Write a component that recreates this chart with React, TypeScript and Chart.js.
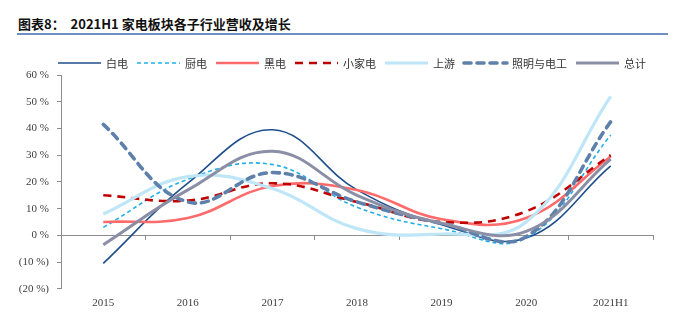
import React, { useEffect, useRef } from 'react';
import { Chart, registerables } from 'chart.js';

Chart.register(...registerables);

const categories = ['2015', '2016', '2017', '2018', '2019', '2020', '2021H1'];
const seriesNames = ['白电', '厨电', '黑电', '小家电', '上游', '照明与电工', '总计'];

const baidian = [-10.5, 19.5, 39.5, 17, 4, -1, 26];
const chudian = [3, 21, 26.5, 10.5, 2.5, -1, 37.5];
const heidian = [5, 6.5, 18.5, 17, 6, 6.5, 29.5];
const xiaojiadian = [15, 13, 19.5, 12.5, 5, 9, 30];
const shangyou = [8, 22, 17.5, 2.5, 0.5, 5, 52];
const zhaoming = [41.5, 12.5, 23.5, 12.5, 4.5, -0.5, 42.5];
const zongji = [-3.5, 17, 31.5, 15, 4.5, 1.5, 28.5];

const yMin = -20;
const yMax = 60;
const yStep = 10;

const seriesValues = [baidian, chudian, heidian, xiaojiadian, shangyou, zhaoming, zongji];
const seriesStyles = [
  { color: '#1F4E8C', width: 1.6, dash: [] as number[], cap: 'butt' },
  { color: '#22AEE6', width: 1.6, dash: [4, 3], cap: 'butt' },
  { color: '#FF6B6B', width: 2.6, dash: [] as number[], cap: 'butt' },
  { color: '#C00000', width: 2.6, dash: [8, 6], cap: 'butt' },
  { color: '#BEE6F7', width: 3.2, dash: [] as number[], cap: 'butt' },
  { color: '#5E80AA', width: 3.6, dash: [7, 6], cap: 'round' },
  { color: '#8A8FA6', width: 3, dash: [] as number[], cap: 'butt' },
];

const serifFont = '"Liberation Serif", "Times New Roman", serif';
const cjkFont = '"Noto Sans CJK SC", sans-serif';

const legendPlugin = {
  id: 'lineLegend',
  afterDraw(chart: any) {
    const ctx = chart.ctx as CanvasRenderingContext2D;
    const sampleW = 43;
    const gap1 = 5;
    const gap2 = 9;
    ctx.save();
    ctx.font = `11px ${cjkFont}`;
    let x = chart.chartArea.left - 3;
    const y = 63;
    chart.data.datasets.forEach((ds: any) => {
      const tw = ctx.measureText(ds.label).width;
      ctx.beginPath();
      ctx.setLineDash(ds.borderDash || []);
      ctx.lineWidth = ds.borderWidth;
      ctx.strokeStyle = ds.borderColor;
      ctx.lineCap = ds.borderCapStyle || 'butt';
      ctx.moveTo(x, y);
      ctx.lineTo(x + sampleW, y);
      ctx.stroke();
      ctx.setLineDash([]);
      ctx.fillStyle = '#333333';
      ctx.textBaseline = 'middle';
      ctx.textAlign = 'left';
      ctx.fillText(ds.label, x + sampleW + gap1, y + 1);
      x += sampleW + gap1 + tw + gap2;
    });
    ctx.restore();
  },
};

export default function App() {
  const canvasRef = useRef<HTMLCanvasElement | null>(null);

  useEffect(() => {
    if (!canvasRef.current) return;
    const datasets = seriesNames.map((name, i) => ({
      label: name,
      data: seriesValues[i],
      borderColor: seriesStyles[i].color,
      backgroundColor: seriesStyles[i].color,
      borderWidth: seriesStyles[i].width,
      borderDash: seriesStyles[i].dash,
      borderCapStyle: seriesStyles[i].cap,
      pointRadius: 0,
      pointHoverRadius: 0,
      tension: 0.4,
      fill: false,
      order: seriesNames.length - i,
      xAxisID: 'x',
      yAxisID: 'y',
    }));

    const chart = new Chart(canvasRef.current, {
      type: 'line',
      data: { labels: categories, datasets: datasets as any },
      options: {
        responsive: false,
        animation: false,
        layout: { padding: { top: 75, right: 24, bottom: 8, left: 0 } },
        plugins: {
          legend: { display: false },
          tooltip: { enabled: false },
          title: { display: false },
        },
        scales: {
          x: {
            type: 'category',
            position: 'bottom',
            offset: true,
            grid: { display: false, drawTicks: false },
            border: { display: false },
            ticks: {
              padding: 8,
              color: '#404040',
              font: { family: serifFont, size: 11 },
              maxRotation: 0,
            },
          },
          x0: {
            type: 'category',
            axis: 'x',
            position: { y: 0 } as any,
            offset: true,
            grid: {
              display: true,
              drawOnChartArea: false,
              drawTicks: true,
              tickLength: 4,
              offset: true,
              color: '#8C8C8C',
            },
            border: { display: true, color: '#8C8C8C', width: 1 },
            ticks: { display: false },
          },
          y: {
            type: 'linear',
            min: yMin,
            max: yMax,
            afterFit(scale: any) {
              scale.width = 61;
            },
            grid: {
              display: true,
              drawOnChartArea: false,
              drawTicks: true,
              tickLength: 4,
              color: '#8C8C8C',
            },
            border: { display: true, color: '#8C8C8C', width: 1 },
            ticks: {
              stepSize: yStep,
              padding: 8,
              color: '#404040',
              font: { family: serifFont, size: 11 },
              callback: (v: any) => (Number(v) < 0 ? `(${-Number(v)} %)` : `${v} %`),
            },
          },
        },
      },
      plugins: [legendPlugin],
    });
    return () => chart.destroy();
  }, []);

  return (
    <div style={{ position: 'fixed', left: 0, top: 0, width: 677, height: 326, background: '#ffffff' }}>
      <div
        style={{
          position: 'absolute',
          left: 18,
          top: 16,
          fontFamily: cjkFont,
          fontWeight: 700,
          fontSize: 13,
          lineHeight: '16px',
          color: '#111111',
          whiteSpace: 'pre',
        }}
      >
        {'图表8：  2021H1 家电板块各子行业营收及增长'}
      </div>
      <div
        style={{
          position: 'absolute',
          left: 17,
          top: 33,
          width: 651,
          height: 2,
          background: '#6F8FC4',
        }}
      />
      <canvas ref={canvasRef} width={677} height={326} style={{ position: 'absolute', left: 0, top: 0 }} />
    </div>
  );
}
